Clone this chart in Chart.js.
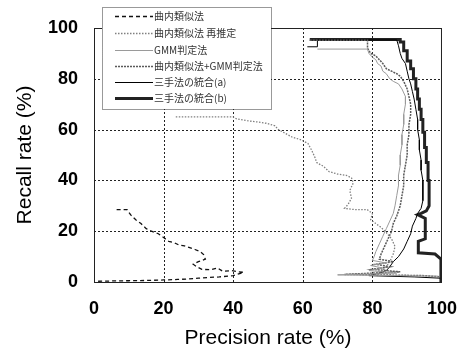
<!DOCTYPE html>
<html>
<head>
<meta charset="utf-8">
<script src="https://cdn.jsdelivr.net/npm/chart.js@4"></script>
<style>
html,body{margin:0;padding:0;background:#fff;}
canvas{display:block;}
</style>
</head>
<body>
<canvas id="c" width="473" height="351"></canvas>
<script>
// Tick labels
const xTicks = [0, 20, 40, 60, 80, 100];
const yTicks = [0, 20, 40, 60, 80, 100];

// Series names
const seriesNames = ['曲内類似法', '曲内類似法 再推定', 'GMM判定法', '曲内類似法+GMM判定法', '三手法の統合(a)', '三手法の統合(b)'];

// 曲内類似法 (dashed)
const simX = [6.5, 9.5, 10.5, 12, 13.5, 15, 16.5, 18.5, 20, 21.5, 23, 24.5, 26, 27.5, 29, 30.5, 31.5, 32, 30, 28.5, 29.5, 31, 33.5, 35.5, 37, 39.5, 41.5, 43, 40, 36, 33, 30, 27, 24, 20, 15, 10, 5, 1];
const simY = [28.5, 28.5, 26.5, 24.5, 23, 21, 20, 19, 17.5, 16, 15.5, 14.5, 14.2, 13.5, 12.8, 12, 10.8, 9, 8, 7, 6, 5, 4.8, 5.5, 4.2, 4.5, 4, 3.8, 2.5, 2, 1.8, 1.5, 1.2, 1, 0.8, 0.6, 0.5, 0.4, 0.3];

// 曲内類似法 再推定 (dotted)
const reX = [23.5, 40, 41, 44, 47, 49.5, 52, 53, 55, 57, 59.5, 61.5, 62.5, 63.5, 64, 66, 67.5, 70, 72.5, 74, 74.5, 73.5, 74, 73, 72, 75, 78.5, 80, 79.5, 81, 82.5, 84, 85.5, 86.5, 86, 85, 84, 82.5, 81];
const reY = [65, 65, 64.2, 63.5, 63, 62.5, 61.5, 60, 58.5, 57, 56, 54.5, 52, 49, 47, 45.5, 43.5, 42.5, 42, 41, 39, 36, 33, 30.5, 29, 28.5, 28.5, 27, 24.5, 23, 21.5, 19.5, 17, 14, 11, 8, 6, 4, 2];

// GMM判定法
const gmmX = [64.2, 78.6, 79, 80, 81, 81.5, 82.5, 83, 84, 85, 86, 87.5, 88.5, 89.5, 89.5, 89, 89, 88.5, 88.5, 88, 88, 87.5, 87.5, 87, 86.5, 86, 85, 84, 83, 82, 81, 80.5, 80, 84, 79.5, 83, 79, 87, 70, 99];
const gmmY = [91.7, 91.7, 90, 88.5, 87.5, 86, 85, 83, 82, 80, 79, 78, 76, 73, 70, 66, 62, 58, 54, 50, 46, 42, 38, 34, 30, 27, 24, 21, 18, 15, 12, 10, 8.5, 7.5, 6.5, 5.5, 4.5, 3.5, 2.8, 2.3];

// 曲内類似法+GMM判定法
const combX = [62, 78.6, 78.6, 79.5, 81, 82, 83, 84, 85.5, 87, 88, 89, 90, 90.5, 91, 91, 90.5, 90.5, 90, 90, 89.5, 89, 89, 88.5, 88, 87, 86, 85.5, 84.5, 83.5, 82.5, 82, 86, 81, 85, 80, 88, 72, 95, 99.5];
const combY = [95.2, 95.2, 92, 90, 89, 87.5, 86, 84, 83, 82, 81, 79, 76, 73, 70, 66, 62, 58, 54, 50, 46, 42, 38, 34, 30, 26, 23, 20, 17, 14, 11, 9, 8, 7, 6, 5, 4, 3, 2.5, 2];

// 三手法の統合(a)
const aX = [61.3, 64.2, 64.2, 87, 87.5, 88, 88.5, 89.5, 90, 90.5, 91, 91.5, 92, 92.5, 93, 93, 93.5, 93.5, 94, 94, 94.5, 94.5, 94.5, 94, 93, 92.5, 91.5, 91, 90, 89, 87.5, 86, 85, 84, 82, 79, 92, 99.5];
const aY = [92.6, 92.6, 95.3, 95.3, 93, 90, 88, 86, 83, 80, 78, 75, 72, 68, 64, 60, 56, 52, 48, 44, 40, 36, 32, 29, 27, 25, 22, 19, 16, 13, 10, 8, 6, 4.5, 3.5, 2.5, 2, 1.5];

// 三手法の統合(b)
const bX = [62, 88, 88, 89, 89, 90, 90, 91, 91, 91.8, 91.8, 92.5, 92.5, 93, 93, 93.5, 93.5, 94, 94, 94.5, 94.5, 95, 95, 95.5, 95.5, 96, 96, 96.3, 96.3, 95.5, 94, 93, 95.2, 95.2, 93.2, 93.2, 98, 99.7, 99.7];
const bY = [95.5, 95.5, 94.5, 94.5, 91, 91, 87, 87, 84, 84, 80, 80, 76, 76, 72, 72, 68, 68, 64, 64, 59, 59, 53, 53, 47, 47, 40, 40, 30, 28, 27, 26.5, 25, 17, 16, 11.5, 11, 9, 0];

function pts(xs, ys) { return xs.map((x, i) => ({ x: x, y: ys[i] })); }

const styles = [
  { color: '#111', width: 1.3, dash: [4, 3] },
  { color: '#808080', width: 1.3, dash: [1.5, 1.5] },
  { color: '#9a9a9a', width: 1, dash: [] },
  { color: '#5a5a5a', width: 1.5, dash: [2, 1] },
  { color: '#000', width: 1, dash: [] },
  { color: '#222', width: 3, dash: [] }
];
const seriesData = [pts(simX, simY), pts(reX, reY), pts(gmmX, gmmY), pts(combX, combY), pts(aX, aY), pts(bX, bY)];

const datasets = seriesData.map((d, i) => ({
  label: seriesNames[i],
  data: d,
  borderColor: styles[i].color,
  borderWidth: styles[i].width,
  borderDash: styles[i].dash,
  pointRadius: 0,
  fill: false,
  tension: 0
}));

const gridPlugin = {
  id: 'dotgrid',
  beforeDatasetsDraw(chart) {
    const { ctx, chartArea: a, scales } = chart;
    ctx.save();
    ctx.strokeStyle = '#222';
    ctx.lineWidth = 1;
    ctx.setLineDash([2, 2]);
    xTicks.forEach(v => {
      if (v === 0 || v === 100) return;
      const px = Math.round(scales.x.getPixelForValue(v)) + 0.5;
      ctx.beginPath(); ctx.moveTo(px, a.top); ctx.lineTo(px, a.bottom); ctx.stroke();
    });
    yTicks.forEach(v => {
      if (v === 0 || v === 100) return;
      const py = Math.round(scales.y.getPixelForValue(v)) + 0.5;
      ctx.beginPath(); ctx.moveTo(a.left, py); ctx.lineTo(a.right, py); ctx.stroke();
    });
    ctx.restore();
  }
};

const framePlugin = {
  id: 'frame',
  afterDraw(chart) {
    const { ctx, chartArea: a } = chart;
    ctx.save();
    ctx.strokeStyle = '#222';
    ctx.lineWidth = 1;
    ctx.setLineDash([]);
    ctx.strokeRect(a.left + 0.5, a.top + 0.5, a.right - a.left - 1, a.bottom - a.top);
    // legend box
    const lx = 102, ly = 7, lw = 169, lh = 102;
    ctx.fillStyle = '#fff';
    ctx.fillRect(lx, ly, lw, lh);
    ctx.strokeStyle = '#333';
    ctx.setLineDash([1, 1]);
    ctx.strokeRect(lx + 0.5, ly + 0.5, lw, lh);
    const rows = [16, 33, 50, 66, 82, 98];
    ctx.font = "10px 'Noto Sans CJK JP'";
    ctx.textBaseline = 'middle';
    ctx.textAlign = 'left';
    rows.forEach((ry, i) => {
      const s = styles[i];
      ctx.beginPath();
      ctx.strokeStyle = s.color;
      ctx.lineWidth = s.width;
      ctx.setLineDash(s.dash);
      ctx.moveTo(115, ry + 0.5);
      ctx.lineTo(153, ry + 0.5);
      ctx.stroke();
      ctx.setLineDash([]);
      ctx.fillStyle = '#333';
      ctx.fillText(seriesNames[i], 154, ry);
    });
    ctx.restore();
  }
};

new Chart(document.getElementById('c'), {
  type: 'line',
  data: { datasets: datasets },
  options: {
    responsive: false,
    animation: false,
    devicePixelRatio: 1,
    layout: { padding: { left: 0, right: 24, top: 28, bottom: 0 } },
    plugins: { legend: { display: false }, tooltip: { enabled: false } },
    scales: {
      x: {
        type: 'linear',
        min: 0, max: 100,
        afterBuildTicks(scale) { scale.ticks = xTicks.map(v => ({ value: v })); },
        afterFit(scale) { scale.height = 69; },
        ticks: { color: '#000', padding: 16, font: { family: "'Liberation Sans', Arial", size: 18, weight: 'bold' }, maxRotation: 0 },
        grid: { display: false, drawTicks: false },
        border: { display: false },
        title: { display: true, text: 'Precision rate (%)', color: '#000', padding: { top: 0, bottom: 0 }, font: { family: "'Liberation Sans', Arial", size: 21 } }
      },
      y: {
        type: 'linear',
        min: 0, max: 100,
        afterBuildTicks(scale) { scale.ticks = yTicks.map(v => ({ value: v })); },
        afterFit(scale) { scale.width = 94; },
        ticks: { color: '#000', padding: 16, font: { family: "'Liberation Sans', Arial", size: 18, weight: 'bold' } },
        grid: { display: false, drawTicks: false },
        border: { display: false },
        title: { display: true, text: 'Recall rate (%)', color: '#000', padding: { top: 13, bottom: 0 }, font: { family: "'Liberation Sans', Arial", size: 21 } }
      }
    }
  },
  plugins: [gridPlugin, framePlugin]
});
</script>
</body>
</html>
